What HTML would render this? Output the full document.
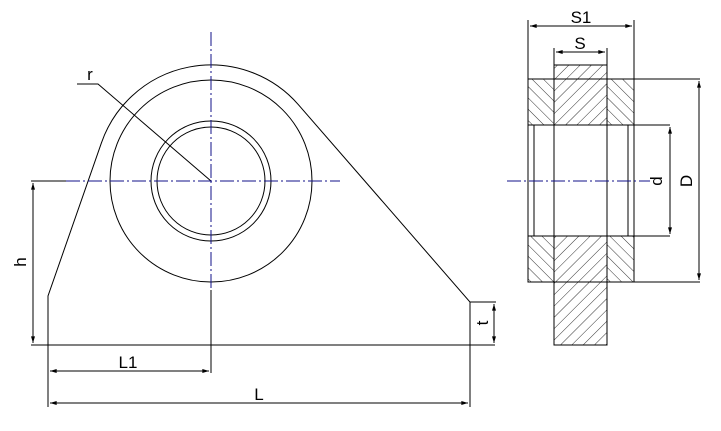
<!DOCTYPE html>
<html><head><style>body{margin:0;background:#fff}svg{display:block}</style></head><body>
<svg width="721" height="431" viewBox="0 0 721 431" xmlns="http://www.w3.org/2000/svg" font-family="Liberation Sans, sans-serif">
<defs>
<pattern id="hf" width="8" height="8" patternUnits="userSpaceOnUse" patternTransform="rotate(45)"><line x1="0" y1="0" x2="0" y2="8" stroke="#000" stroke-width="0.8"/></pattern>
<pattern id="hb" width="8" height="8" patternUnits="userSpaceOnUse" patternTransform="rotate(-45)"><line x1="0" y1="0" x2="0" y2="8" stroke="#000" stroke-width="0.8"/></pattern>
<marker id="a" viewBox="0 0 10 6" refX="10" refY="3" markerWidth="8" markerHeight="4" orient="auto-start-reverse"><path d="M0,0L10,3L0,6z" fill="#000"/></marker>
</defs>
<g fill="none" stroke="#000" stroke-width="1">
<path d="M48,345 L48,296 L101.4,142.9 A116,116 0 0 1 298.4,104.7 L470,302 L470,345"/>
<circle cx="211" cy="181" r="101"/>
<circle cx="211" cy="181" r="60"/>
<circle cx="211" cy="181" r="54"/>
<line x1="31" y1="345" x2="495" y2="345"/>
<line x1="470" y1="302" x2="496" y2="302"/>
<line x1="470" y1="345" x2="470" y2="407"/>
<line x1="48" y1="345" x2="48" y2="407"/>
<line x1="211" y1="290" x2="211" y2="373"/>
<line x1="31" y1="181" x2="66" y2="181"/>
<line x1="33" y1="183" x2="33" y2="343" marker-start="url(#a)" marker-end="url(#a)"/>
<line x1="494" y1="304" x2="494" y2="343" marker-start="url(#a)" marker-end="url(#a)"/>
<line x1="50" y1="371" x2="209" y2="371" marker-start="url(#a)" marker-end="url(#a)"/>
<line x1="50" y1="403" x2="468" y2="403" marker-start="url(#a)" marker-end="url(#a)"/>
<path d="M77,84 L98,84 L211,181"/>
<rect x="528" y="79" width="26" height="46" fill="url(#hb)"/>
<rect x="607" y="79" width="27" height="46" fill="url(#hb)"/>
<rect x="528" y="236" width="26" height="46" fill="url(#hb)"/>
<rect x="607" y="236" width="27" height="46" fill="url(#hb)"/>
<rect x="554" y="65" width="53" height="60" fill="url(#hf)"/>
<rect x="554" y="236" width="53" height="109" fill="url(#hf)"/>
<rect x="528" y="79" width="106" height="203"/>
<rect x="554" y="65" width="53" height="280"/>
<rect x="534" y="125" width="94" height="111" fill="#fff"/>
<line x1="554" y1="125" x2="554" y2="236"/>
<line x1="607" y1="125" x2="607" y2="236"/>
<line x1="628" y1="125" x2="670" y2="125"/>
<line x1="628" y1="236" x2="670" y2="236"/>
<line x1="634" y1="79" x2="700" y2="79"/>
<line x1="634" y1="282" x2="700" y2="282"/>
<line x1="528" y1="20" x2="528" y2="79"/>
<line x1="634" y1="20" x2="634" y2="79"/>
<line x1="554" y1="48" x2="554" y2="65"/>
<line x1="607" y1="48" x2="607" y2="65"/>
<line x1="530" y1="26" x2="632" y2="26" marker-start="url(#a)" marker-end="url(#a)"/>
<line x1="556" y1="52" x2="605" y2="52" marker-start="url(#a)" marker-end="url(#a)"/>
<line x1="670" y1="127" x2="670" y2="234" marker-start="url(#a)" marker-end="url(#a)"/>
<line x1="699" y1="81" x2="699" y2="280" marker-start="url(#a)" marker-end="url(#a)"/>
</g>
<g stroke="#10108a" stroke-width="1" stroke-dasharray="14,3,2,3" fill="none">
<line x1="66" y1="181" x2="340" y2="181"/>
<line x1="211" y1="32" x2="211" y2="290"/>
<line x1="507" y1="181" x2="650" y2="181"/>
</g>
<g font-size="17" fill="#000" text-anchor="middle">
<text x="90" y="80">r</text>
<text x="128" y="368">L1</text>
<text x="259" y="400">L</text>
<text transform="translate(26,262) rotate(-90)">h</text>
<text transform="translate(488,323) rotate(-90)">t</text>
<text x="581" y="23">S1</text>
<text x="580" y="49">S</text>
<text transform="translate(662,181) rotate(-90)">d</text>
<text transform="translate(692,181) rotate(-90)">D</text>
</g>
</svg>
</body></html>
